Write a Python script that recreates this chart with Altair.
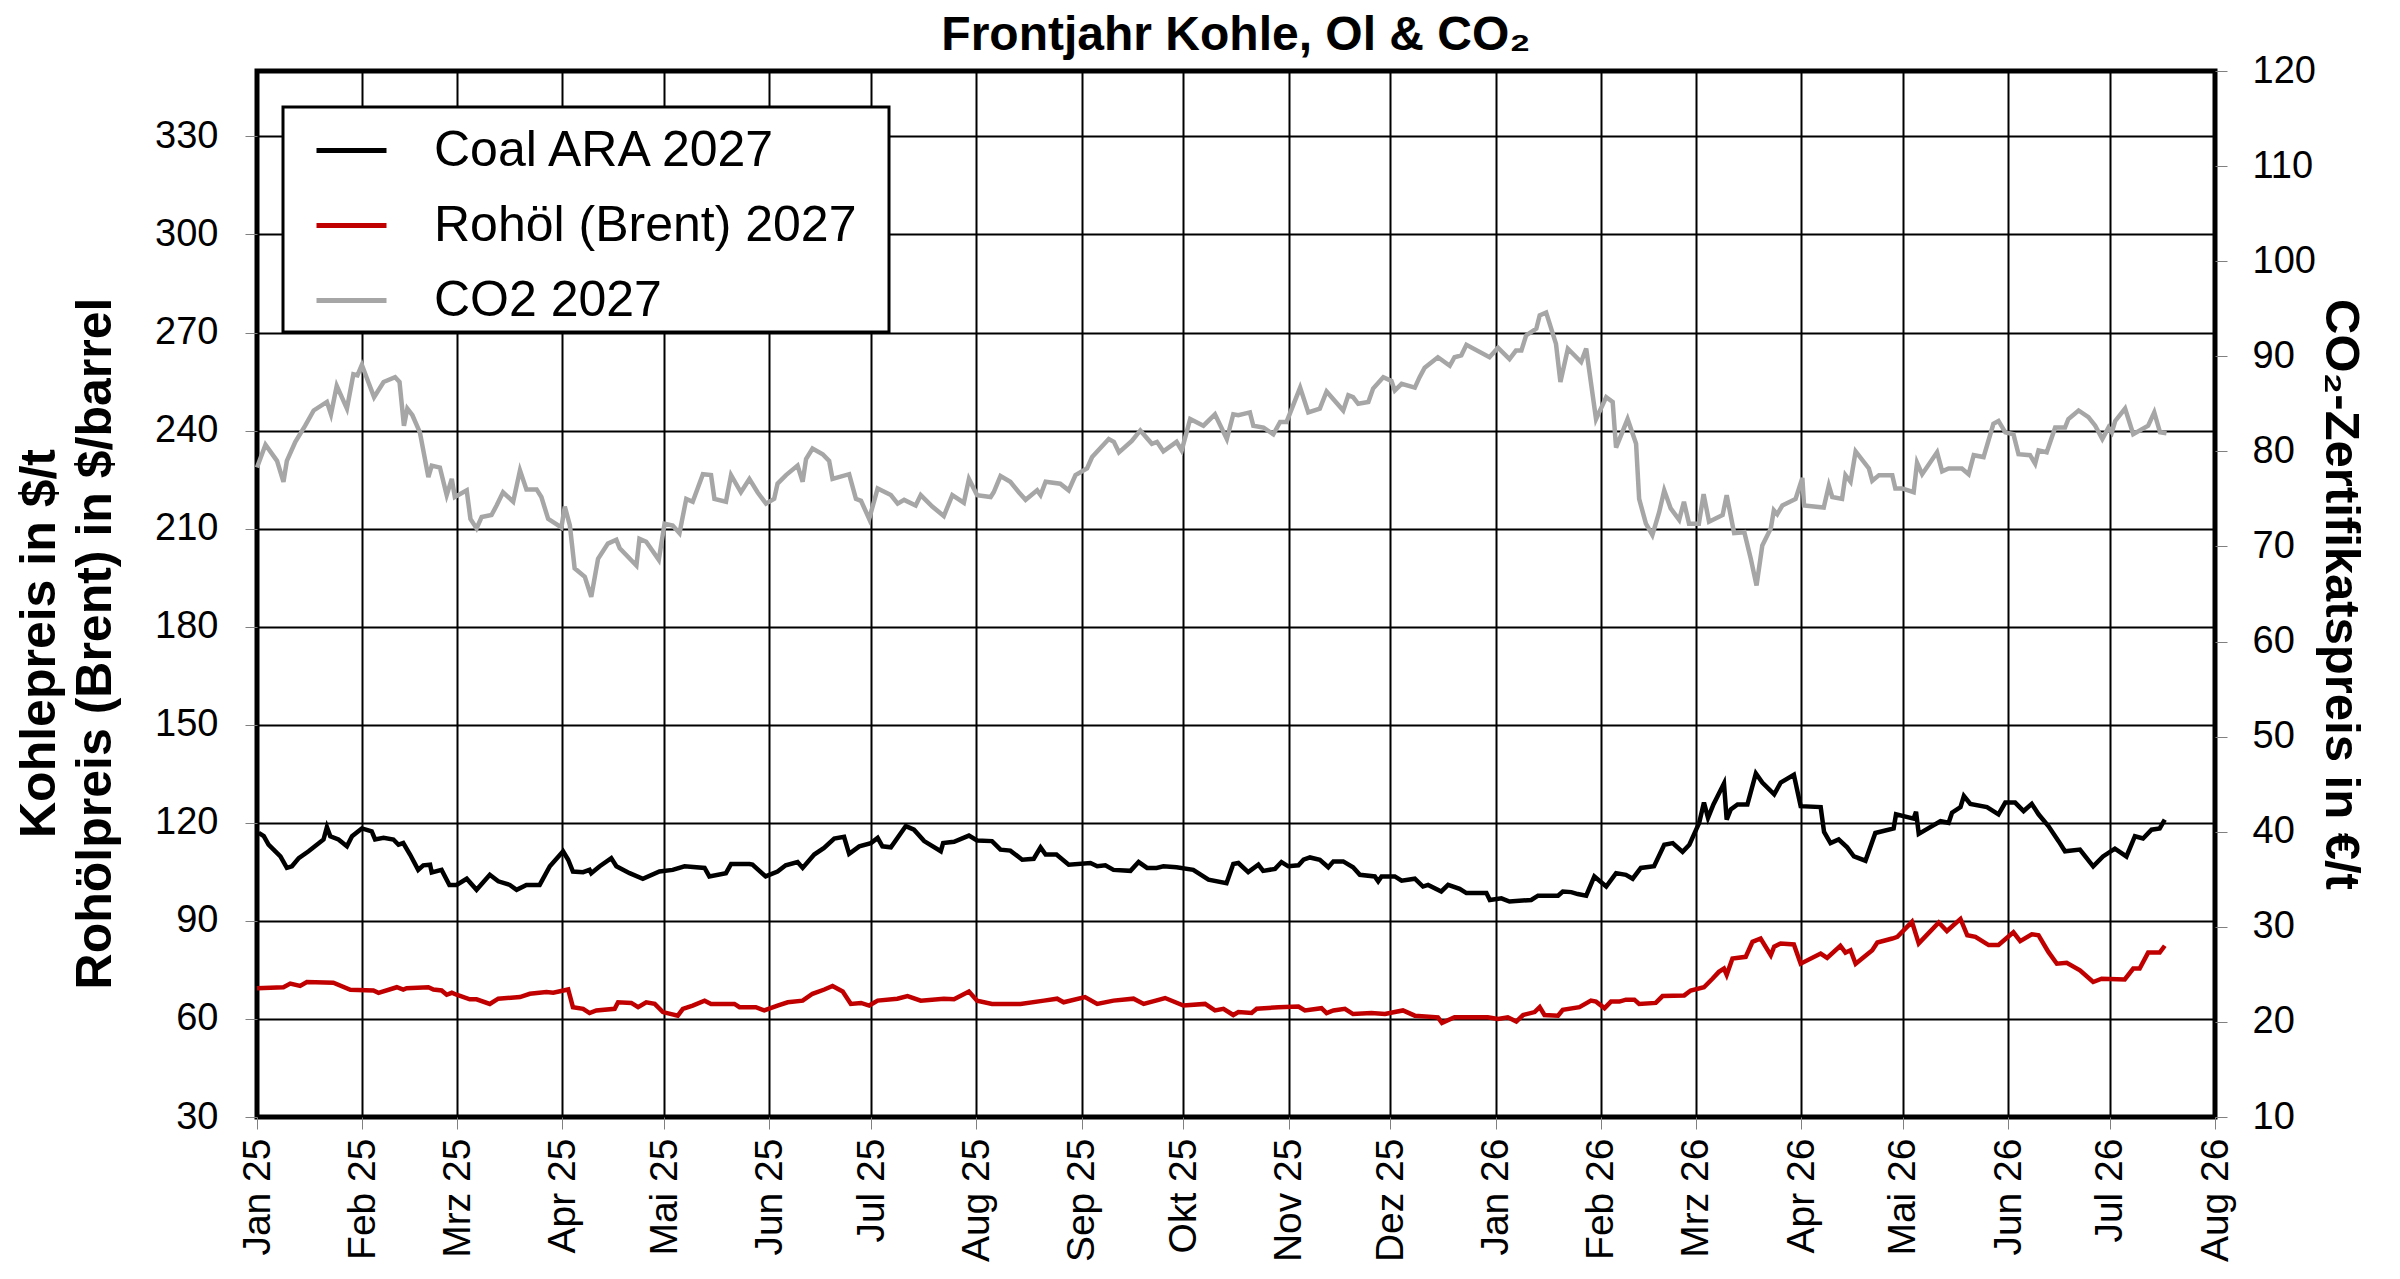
import json
import altair as alt
import pandas as pd

# ---------------- data ----------------
MONTHS_DE = ["Jan", "Feb", "Mrz", "Apr", "Mai", "Jun", "Jul", "Aug", "Sep", "Okt", "Nov", "Dez"]
SERIES = ["Coal ARA 2027", "Rohöl (Brent) 2027", "CO2 2027"]
COLORS = ["#000000", "#C00000", "#A6A6A6"]
LEFT_TICKS = [30, 60, 90, 120, 150, 180, 210, 240, 270, 300, 330]
RIGHT_TICKS = [10, 20, 30, 40, 50, 60, 70, 80, 90, 100, 110, 120]

# days after 2025-01-01
coal_days = [0.5, 2, 3.4, 6.9, 8.8, 10.3, 12.3, 15.2, 19.6, 20.6, 21.6, 24, 26.5, 28, 30.9, 33.8, 34.8, 37.3, 40.2, 41.7,
             43.1, 45.1, 47.5, 49, 51, 51.5, 54.4, 56.7, 58.8, 61.8, 64.7, 68.6, 71.1, 74.5, 76.5, 79.4, 83.3, 86.3, 90.2,
             91.7, 93.1, 96.1, 98, 98.5, 101, 104.4, 105.9, 109.8, 113.7, 118.6, 122.5, 126, 131.9, 133.3, 138.2, 139.7,
             145.1, 146, 149.9, 153.4, 155.8, 159.3, 160.8, 164.2, 167.1, 170.1, 173, 174.5, 177.5, 180.9, 182.9, 184.3,
             186.8, 191.2, 193.6, 196.6, 201.5, 202.2, 205.4, 209.8, 212.2, 216.6, 219.1, 222, 225.5, 228.9, 230.9, 232.4,
             235.6, 239.2, 245.6, 247.6, 250, 252.4, 257.4, 259.8, 262.3, 265.1, 267.1, 271, 275.9, 280.4, 285.7, 287.7,
             289.2, 292.1, 295.1, 296.5, 300, 301.9, 303.9, 306.9, 308.4, 310.3, 313.2, 315.7, 317.2, 320.1, 323, 325,
             329.4, 330.4, 331.4, 335.3, 337.3, 341.2, 343.6, 345.1, 349, 351, 354.4, 356.4, 362.3, 363.3, 366.7, 369.1,
             375.5, 377.5, 383.4, 384.8, 387.3, 389.2, 391.7, 394.1, 397.6, 400.5, 403.4, 405.4, 407.8, 411.7, 414.7,
             417.2, 420.1, 422.1, 425, 426.4, 427.6, 429.2, 432.3, 433.1, 434.3, 436.3, 439.2, 441.7, 443.6, 447.1, 449,
             452.9, 454.9, 460.8, 461.8, 463.7, 466.1, 468.6, 470.6, 474, 476.9, 482.3, 483, 488.2, 488.9, 489.7, 493.6,
             496.1, 498.5, 499.5, 502, 503, 504.9, 509.8, 513.2, 515.2, 518.1, 520.6, 523, 525, 527.9, 530.9, 532.8,
             537.2, 541.1, 544, 547.5, 550.9, 553.4, 555.8, 558.3, 560.7, 562.2]
coal_vals = [116.9, 115.9, 113.3, 109.7, 106.2, 106.7, 109.2, 111.3, 114.9, 118.7, 115.9, 114.9, 112.8, 115.9, 118.3,
             117.4, 114.9, 115.4, 114.9, 113.3, 113.8, 110.3, 105.6, 107.0, 107.2, 104.8, 105.6, 101.0, 101.0, 102.9,
             99.5, 104.1, 102.1, 101.0, 99.5, 101.0, 101.0, 106.7, 111.3, 108.7, 105.1, 104.9, 105.6, 104.6, 106.7,
             109.2, 106.7, 104.6, 102.9, 105.1, 105.6, 106.7, 106.2, 103.6, 104.6, 107.4, 107.4, 107.2, 103.6, 105.1,
             107.0, 108.0, 106.2, 110.3, 112.3, 115.2, 115.7, 110.5, 112.8, 113.8, 115.4, 112.8, 112.5, 119.0, 117.9,
             114.4, 111.3, 113.8, 114.2, 116.1, 114.6, 114.4, 111.8, 111.5, 108.7, 109.0, 112.5, 110.3, 110.3, 107.2,
             107.7, 106.7, 107.0, 105.6, 105.3, 108.0, 106.2, 106.2, 106.7, 106.4, 105.6, 102.6, 101.5, 107.4, 107.7,
             104.9, 107.2, 105.3, 105.9, 108.0, 106.7, 107.0, 108.7, 109.4, 108.7, 106.4, 108.2, 108.2, 106.4, 104.1,
             103.6, 102.1, 103.6, 103.6, 102.3, 102.9, 100.5, 101.0, 99.0, 101.0, 99.8, 98.5, 98.5, 96.4, 96.9, 95.9,
             96.4, 97.7, 97.7, 99.0, 98.8, 98.2, 97.7, 103.6, 100.5, 104.6, 104.1, 102.9, 106.2, 106.7, 113.3, 113.8,
             111.1, 113.3, 120.0, 126.2, 121.5, 125.6, 132.0, 121.0, 124.1, 125.6, 125.6, 135.1, 132.3, 128.7, 132.3,
             134.7, 125.1, 124.8, 117.2, 113.8, 114.9, 112.5, 109.7, 108.4, 116.9, 118.3, 122.6, 121.3, 123.4, 116.6,
             119.0, 120.5, 120.0, 123.1, 124.8, 128.2, 125.8, 124.8, 122.6, 126.2, 126.2, 123.6, 125.8, 122.6, 119.0,
             114.4, 111.3, 111.8, 106.7, 109.7, 112.1, 109.7, 115.9, 115.2, 117.9, 118.3, 121.0]

brent_days = [0, 7.8, 9.8, 12.7, 14.7, 22.5, 27.5, 34.3, 35.8, 41.2, 43.1, 44.1, 50.5, 52, 54.4, 55.9, 57.4, 58.8, 62.7,
              64.7, 68.6, 71.1, 77.5, 80.4, 85.3, 87.3, 91.7, 93.1, 96.1, 98, 100, 105.4, 106.4, 110.3, 112.3, 114.7,
              117.2, 119.6, 124, 125.5, 128.4, 131.9, 133.8, 140.7, 142.2, 145.1, 147, 149.5, 153.4, 156.4, 160.8, 163.7,
              167.2, 169.6, 172.6, 175, 178, 180.4, 182.9, 188.7, 191.7, 195.6, 202.4, 205.4, 209.8, 212.2, 216.6, 225,
              231.9, 235.8, 237.7, 244, 247.6, 252.4, 258.3, 261.3, 267.6, 273, 279.4, 282.3, 284.8, 287.7, 289.2, 293.1,
              294.6, 301, 306.9, 308.8, 313.7, 315.2, 317.2, 320.6, 323, 328.4, 332.4, 335.3, 337.7, 341.2, 348, 349.2,
              352.9, 362.7, 365.7, 368.6, 371.1, 373.1, 376.5, 378, 379.4, 383.4, 384.8, 389.7, 393.1, 394.6, 397.1, 399,
              401.5, 403.4, 405.9, 407.3, 412.2, 414.2, 420.6, 422.5, 426.4, 428.9, 430.8, 432.3, 433.1, 434.8, 438.7,
              440.7, 443.1, 446.1, 447.1, 449, 452.9, 454.9, 460.8, 462.7, 466.6, 468.1, 469.6, 471.1, 476, 477.5, 481.9,
              483.4, 487.7, 489.7, 495.6, 498, 502, 504, 506.4, 510.3, 513.2, 517.6, 519.6, 523, 525, 527.9, 530.4,
              533.3, 537.2, 541.1, 543.6, 550.4, 552.9, 554.8, 557.3, 560.7, 562.2]
brent_vals = [69.4, 69.7, 70.8, 70.1, 71.3, 71.1, 68.9, 68.7, 68.0, 69.7, 69.0, 69.4, 69.7, 69.0, 68.7, 67.4, 68.0, 67.4,
              66.0, 66.0, 64.6, 66.2, 66.7, 67.7, 68.2, 68.0, 69.0, 63.6, 63.1, 61.8, 62.6, 63.1, 65.1, 64.9, 63.6, 65.1,
              64.6, 62.1, 61.0, 63.1, 64.1, 65.6, 64.6, 64.6, 63.6, 63.6, 63.6, 62.6, 64.1, 65.1, 65.6, 67.7, 69.0, 70.1,
              68.4, 64.6, 64.9, 64.1, 65.6, 66.2, 67.0, 65.6, 66.2, 66.0, 68.4, 65.6, 64.6, 64.6, 65.6, 66.2, 65.1, 66.7,
              64.6, 65.6, 66.2, 64.6, 66.4, 64.1, 64.6, 62.6, 63.1, 61.2, 62.1, 61.8, 63.1, 63.6, 63.8, 62.6, 63.3, 61.8,
              62.6, 63.1, 61.5, 61.8, 61.5, 62.1, 62.6, 61.0, 60.5, 58.8, 60.5, 60.5, 60.0, 60.5, 59.2, 61.2, 62.1, 63.6,
              61.2, 61.0, 62.8, 63.6, 65.6, 65.3, 63.3, 65.3, 65.3, 65.9, 65.9, 64.6, 64.9, 67.0, 67.2, 68.7, 69.7, 72.3,
              74.4, 75.4, 73.5, 78.5, 79.0, 83.6, 84.6, 79.5, 82.1, 83.1, 82.8, 76.9, 80.0, 78.7, 82.4, 80.3, 81.0, 76.9,
              81.0, 83.4, 84.6, 85.1, 89.7, 83.1, 89.5, 86.9, 90.6, 85.6, 85.1, 82.6, 82.6, 86.5, 83.8, 85.9, 85.6, 80.5,
              76.9, 77.2, 74.9, 71.3, 72.3, 72.1, 75.4, 75.4, 80.3, 80.3, 82.4]

co2_days = [0, 2.5, 5.9, 7.8, 8.8, 11.3, 14.2, 16.7, 20.6, 21.8, 23.5, 26.5, 28.4, 29.6, 30.9, 32.8, 34.5, 37.3, 40.7, 42,
            43.3, 44.3, 45.8, 48, 50.5, 51.5, 53.9, 55.9, 57.4, 58.3, 61.8, 62.9, 64.7, 66.2, 69.1, 70.6, 72.5, 75.5,
            77.5, 79.4, 82.4, 83.8, 85.8, 89.7, 90.7, 92.2, 93.6, 96.6, 98.5, 100.5, 103.4, 105.9, 106.9, 111.8, 112.7,
            114.7, 118.4, 120.1, 122.5, 124.5, 126.5, 128.4, 131.4, 133.8, 134.8, 138.2, 139.7, 142.6, 145.1, 147.5,
            150, 152.4, 153.4, 155.9, 159.3, 160.8, 161.8, 163.7, 166.7, 168.6, 169.6, 174.5, 176.5, 178, 180.4, 182.9,
            186.8, 188.8, 190.7, 194.1, 195.6, 199, 202.4, 204.9, 208.3, 209.8, 212.2, 216.2, 217.1, 219.1, 222, 224.5,
            226.5, 229.9, 230.9, 232.4, 236.7, 239.2, 241.2, 244.6, 246.1, 251, 252.5, 254, 257.8, 260.3, 263.7, 265.2,
            267.1, 271, 272.5, 275, 278.9, 282.3, 285.8, 287.7, 289.2, 292.6, 293.6, 296.6, 299.5, 301.5, 303.4, 307.4,
            309.8, 313.2, 315.2, 320.1, 321.6, 323, 324.5, 327.5, 328.9, 331.9, 334.3, 335.3, 337.3, 341.2, 342.6,
            344.1, 348, 351.5, 352.9, 354.9, 356.4, 363.2, 365.7, 369.1, 371, 372.6, 374, 377, 378, 379.9, 382.8, 384.1,
            386.3, 390.2, 391.7, 394.6, 397.6, 399.5, 400.5, 403.9, 406.4, 407.3, 409.3, 411.2, 413.2, 414.7, 416.6,
            419.1, 420.5, 422, 424.9, 426.3, 427.9, 431.9, 433.1, 435.3, 438.3, 440.2, 441.9, 443.6, 446.1, 447, 448,
            449.5, 453.4, 455.4, 455.9, 461.7, 463.2, 464.2, 467.1, 468.1, 469.6, 471.1, 475, 476, 478, 481.9, 482.8,
            484.8, 488.2, 489.2, 490.7, 495.1, 496.6, 498.5, 502.4, 504.4, 505.9, 508.8, 511.7, 513.2, 515.2, 517.6,
            519.1, 522.5, 524, 525, 527.4, 529.9, 532.8, 533.8, 536.8, 539.7, 541.7, 543.8, 545.6, 546.6, 547.6, 550.5,
            552.9, 557.3, 559.1, 560.8, 562.7]
co2_vals = [78.3, 80.7, 79.0, 76.8, 79.0, 81.0, 82.7, 84.3, 85.2, 83.9, 86.9, 84.5, 88.1, 88.0, 89.1, 87.3, 85.7, 87.3,
            87.8, 87.3, 82.7, 84.5, 83.8, 82.0, 77.3, 78.5, 78.3, 75.4, 77.1, 75.2, 75.9, 72.9, 71.9, 73.1, 73.3, 74.3,
            75.7, 74.7, 78.0, 76.0, 76.0, 75.2, 72.9, 72.0, 74.2, 72.2, 67.7, 66.8, 64.7, 68.7, 70.3, 70.7, 69.8, 68.0,
            70.8, 70.5, 68.6, 72.4, 72.2, 71.4, 75.0, 74.7, 77.6, 77.5, 75.0, 74.7, 77.5, 75.7, 77.1, 75.7, 74.5, 75.0,
            76.6, 77.5, 78.5, 76.8, 79.2, 80.3, 79.7, 79.0, 77.1, 77.6, 75.0, 74.8, 72.9, 76.1, 75.4, 74.5, 74.9, 74.3,
            75.4, 74.2, 73.2, 75.4, 74.6, 77.1, 75.4, 75.2, 75.7, 77.4, 76.8, 75.7, 74.9, 75.9, 75.4, 76.8, 76.6, 75.9,
            77.5, 78.2, 79.4, 81.3, 81.0, 79.9, 81.1, 82.2, 80.8, 81.0, 80.0, 81.0, 80.1, 83.4, 82.7, 83.9, 81.3, 83.9,
            83.8, 84.1, 82.7, 82.5, 81.8, 83.1, 83.1, 86.7, 84.1, 84.5, 86.3, 84.3, 85.9, 85.7, 85.0, 85.2, 86.6, 87.8,
            87.4, 86.4, 87.1, 86.7, 87.8, 88.8, 89.9, 89.0, 89.9, 90.1, 91.2, 89.9, 90.9, 89.7, 90.6, 90.6, 92.2, 92.9,
            94.3, 94.6, 91.3, 87.3, 90.8, 89.4, 90.8, 83.4, 85.7, 85.2, 80.4, 83.4, 80.8, 75.0, 72.4, 71.2, 73.6, 75.9,
            74.0, 72.8, 74.7, 72.4, 72.4, 75.5, 72.6, 73.3, 75.4, 71.4, 71.5, 68.7, 65.9, 70.1, 71.9, 73.8, 73.4, 74.3,
            75.0, 77.2, 74.3, 74.1, 76.4, 75.2, 75.0, 77.5, 76.8, 80.0, 78.2, 76.9, 77.5, 77.5, 76.1, 76.1, 75.7, 78.8,
            77.6, 79.9, 77.9, 78.2, 78.2, 77.6, 79.6, 79.4, 82.9, 83.2, 82.0, 81.8, 79.7, 79.6, 78.7, 80.1, 79.9, 82.5,
            82.5, 83.4, 84.3, 83.6, 82.7, 81.3, 82.5, 82.0, 83.2, 84.5, 81.8, 82.7, 84.1, 82.0, 81.9]

# ---------------- build tables ----------------
BASE = pd.Timestamp("2025-01-01")


def to_dates(days):
    return [(BASE + pd.Timedelta(days=d)).strftime("%Y-%m-%dT%H:%M:%S") for d in days]


left_df = pd.concat([
    pd.DataFrame({"date": to_dates(coal_days), "value": coal_vals, "series": SERIES[0]}),
    pd.DataFrame({"date": to_dates(brent_days), "value": brent_vals, "series": SERIES[1]}),
], ignore_index=True)
right_df = pd.DataFrame({"date": to_dates(co2_days), "co2": co2_vals, "series": SERIES[2]})

FONT = "Liberation Sans"
FONT_SUB = "Liberation Sans, DejaVu Sans"   # DejaVu supplies the subscript two
month_values = [alt.DateTime(year=2025 + (i // 12), month=(i % 12) + 1, date=1) for i in range(20)]
label_expr = json.dumps(MONTHS_DE) + "[month(datum.value)] + ' ' + timeFormat(datum.value, '%y')"

x_enc = alt.X(
    "date:T",
    scale=alt.Scale(domain=[alt.DateTime(year=2025, month=1, date=1),
                            alt.DateTime(year=2026, month=8, date=1)]),
    axis=alt.Axis(values=month_values, labelExpr=label_expr, labelAngle=270, title=None,
                  grid=True, gridColor="#000000", gridWidth=2, tickSize=12, tickColor="#808080",
                  labelPadding=9, labelFontSize=39, domain=False),
)

color_enc = alt.Color(
    "series:N",
    scale=alt.Scale(domain=SERIES, range=COLORS),
    legend=alt.Legend(orient="none", legendX=26, legendY=36, title="\u00a0", titleOrient="right",
                      titlePadding=27, titleFontSize=2, symbolType="stroke",
                      symbolStrokeWidth=5, symbolSize=4900, labelFontSize=50, labelFont=FONT,
                      labelColor="#000000", labelLimit=2000, padding=6, rowPadding=12,
                      symbolOffset=25, labelOffset=45, fillColor="#FFFFFF", strokeColor="#000000"),
)

line_w = 4.5

left = alt.Chart(left_df).mark_line(strokeWidth=line_w, interpolate="linear").encode(
    x=x_enc,
    y=alt.Y("value:Q",
            scale=alt.Scale(domain=[30, 350], nice=False, zero=False),
            axis=alt.Axis(orient="left", values=LEFT_TICKS, grid=True, gridColor="#000000", gridWidth=2,
                          title=["Kohlepreis in $/t", "Rohölpreis (Brent) in $/barrel"],
                          titleFontSize=50, titleFontWeight="bold", titleAngle=270, titleLineHeight=56,
                          titlePadding=34, titleY=572, labelPadding=27, tickSize=12,
                          tickColor="#808080", domain=False)),
    color=color_enc,
    detail="series:N",
)

right = alt.Chart(right_df).mark_line(strokeWidth=line_w, interpolate="linear").encode(
    x=x_enc,
    y=alt.Y("co2:Q",
            scale=alt.Scale(domain=[10, 120], nice=False, zero=False),
            axis=alt.Axis(orient="right", values=RIGHT_TICKS, grid=False,
                          title="CO₂-Zertifikatspreis in €/t", titleFont=FONT_SUB, titleFontSize=49,
                          titleFontWeight="bold", titleAngle=90, titlePadding=0, labelPadding=25,
                          tickSize=12, tickColor="#808080", domain=False)),
    color=color_enc,
)

chart = alt.layer(left, right).resolve_scale(y="independent").properties(
    width=1958,
    height=1046,
    title=alt.TitleParams("Frontjahr Kohle, Ol & CO₂", fontSize=48, fontWeight="bold", font=FONT_SUB,
                          anchor="middle", offset=-8, color="#000000"),
    padding={"left": 6, "top": 4, "right": 14, "bottom": 0},
    background="#FFFFFF",
).configure_view(
    stroke="#000000", strokeWidth=5
).configure_axis(
    labelFont=FONT, titleFont=FONT, labelFontSize=38, labelColor="#000000", titleColor="#000000"
).configure_legend(
    strokeWidth=3
)

chart.save("out.html", embed_options={"renderer": "svg", "actions": False})
